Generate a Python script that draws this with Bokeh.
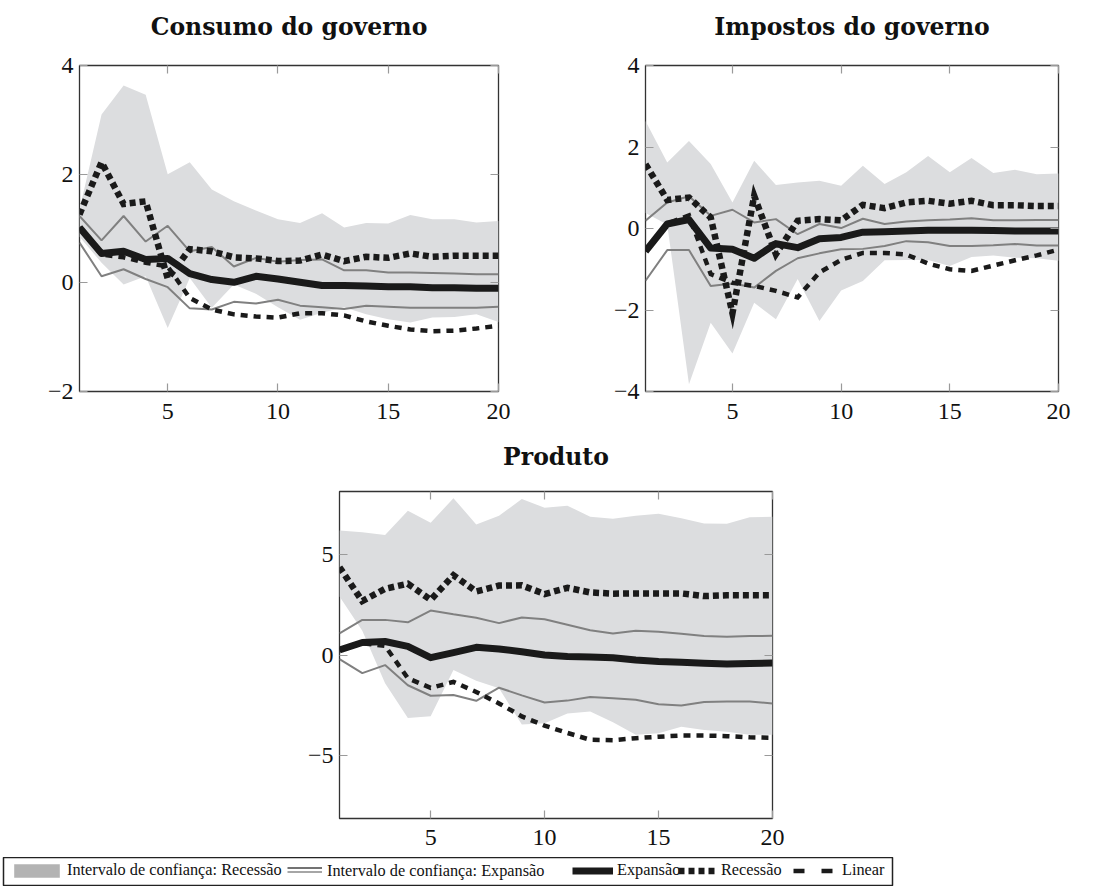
from bokeh.plotting import figure
from bokeh.models import Range1d, LinearAxis, FixedTicker, Legend, LegendItem, Spacer
from bokeh.layouts import column, row
from bokeh.embed import file_html
from bokeh.resources import INLINE

h = list(range(1, 21))
x_ticks = [5, 10, 15, 20]

# --- Consumo do governo ---
cg_band_up = [1.35, 3.1, 3.63, 3.46, 2.0, 2.22, 1.72, 1.5, 1.33, 1.17, 1.1, 1.28, 1.02, 1.1, 1.09, 1.25, 1.17, 1.17, 1.11, 1.14]
cg_band_lo = [0.85, 0.37, -0.03, 0.12, -0.83, 0.09, -0.46, -0.03, -0.2, -0.45, -0.68, -0.55, -0.45, -0.58, -0.67, -0.73, -0.64, -0.63, -0.58, -0.72]
cg_ci_up = [1.23, 0.78, 1.23, 0.76, 1.05, 0.58, 0.66, 0.3, 0.46, 0.39, 0.42, 0.43, 0.23, 0.23, 0.19, 0.19, 0.18, 0.17, 0.16, 0.16]
cg_ci_lo = [0.74, 0.12, 0.25, 0.07, -0.08, -0.47, -0.49, -0.35, -0.38, -0.31, -0.42, -0.45, -0.48, -0.42, -0.44, -0.46, -0.46, -0.46, -0.46, -0.44]
cg_exp = [1.02, 0.54, 0.58, 0.43, 0.45, 0.17, 0.06, 0.01, 0.12, 0.07, 0.01, -0.05, -0.05, -0.06, -0.07, -0.07, -0.09, -0.09, -0.1, -0.1]
cg_rec = [1.26, 2.22, 1.45, 1.5, 0.08, 0.62, 0.58, 0.47, 0.45, 0.4, 0.41, 0.52, 0.4, 0.48, 0.46, 0.54, 0.48, 0.5, 0.5, 0.5]
cg_lin = [1.02, 0.52, 0.47, 0.37, 0.3, -0.28, -0.49, -0.58, -0.62, -0.64, -0.56, -0.56, -0.6, -0.71, -0.79, -0.86, -0.89, -0.88, -0.84, -0.79]
cg_yticks = [-2, 0, 2, 4]

# --- Impostos do governo ---
ig_band_up = [2.64, 1.62, 2.15, 1.58, 0.64, 1.66, 1.07, 1.13, 1.17, 1.05, 1.54, 1.09, 1.38, 1.78, 1.38, 1.73, 1.36, 1.44, 1.33, 1.35]
ig_band_lo = [0.38, 0.1, -3.82, -2.31, -3.07, -1.82, -2.23, -1.24, -2.27, -1.52, -1.29, -0.78, -0.77, -0.77, -0.92, -0.7, -0.66, -0.72, -0.73, -0.79]
ig_ci_up = [0.19, 0.64, 0.79, 0.31, 0.46, 0.15, 0.23, -0.14, 0.11, 0.01, 0.24, 0.11, 0.17, 0.2, 0.22, 0.25, 0.2, 0.2, 0.21, 0.21]
ig_ci_lo = [-1.28, -0.53, -0.53, -1.41, -1.35, -1.45, -1.04, -0.73, -0.61, -0.51, -0.5, -0.43, -0.31, -0.34, -0.43, -0.43, -0.41, -0.38, -0.42, -0.42]
ig_exp = [-0.56, 0.11, 0.22, -0.48, -0.51, -0.73, -0.37, -0.47, -0.25, -0.22, -0.09, -0.08, -0.06, -0.04, -0.04, -0.04, -0.05, -0.06, -0.06, -0.06]
ig_rec = [1.58, 0.7, 0.76, 0.27, -2.08, 0.8, -0.63, 0.19, 0.23, 0.2, 0.58, 0.5, 0.64, 0.68, 0.61, 0.68, 0.57, 0.57, 0.55, 0.55]
ig_lin = [-0.55, 0.12, 0.32, -1.12, -1.33, -1.41, -1.53, -1.69, -1.08, -0.77, -0.6, -0.6, -0.64, -0.86, -1.0, -1.04, -0.91, -0.78, -0.66, -0.52]
ig_yticks = [-4, -2, 0, 2, 4]

# --- Produto ---
pr_band_up = [6.17, 6.08, 5.95, 7.15, 6.55, 7.77, 6.47, 6.9, 7.73, 7.3, 7.4, 6.85, 6.75, 6.9, 7.0, 6.77, 6.52, 6.5, 6.82, 6.85]
pr_band_lo = [2.9, 1.2, -1.4, -3.12, -3.03, -0.74, -1.28, -1.65, -3.44, -3.38, -2.9, -2.8, -3.33, -3.95, -3.88, -3.56, -3.72, -3.8, -3.95, -3.95]
pr_ci_up = [1.07, 1.74, 1.74, 1.62, 2.2, 2.02, 1.85, 1.58, 1.86, 1.77, 1.5, 1.23, 1.07, 1.2, 1.15, 1.05, 0.94, 0.9, 0.94, 0.95]
pr_ci_lo = [-0.2, -0.9, -0.5, -1.5, -2.02, -1.98, -2.27, -1.62, -2.0, -2.35, -2.26, -2.08, -2.14, -2.22, -2.44, -2.5, -2.33, -2.3, -2.3, -2.4]
pr_exp = [0.25, 0.62, 0.67, 0.43, -0.13, 0.12, 0.38, 0.3, 0.16, 0.0, -0.08, -0.1, -0.14, -0.25, -0.32, -0.36, -0.41, -0.45, -0.42, -0.4]
pr_rec = [4.35, 2.67, 3.28, 3.53, 2.73, 3.95, 3.15, 3.44, 3.45, 3.02, 3.33, 3.1, 3.04, 3.05, 3.05, 3.05, 2.92, 2.96, 2.96, 2.96]
pr_lin = [0.25, 0.58, 0.45, -1.15, -1.63, -1.33, -1.83, -2.4, -3.04, -3.5, -3.86, -4.2, -4.22, -4.12, -4.05, -3.99, -3.99, -4.02, -4.08, -4.1]
pr_yticks = [-5, 0, 5]

legend_labels = ["Intervalo de confiança: Recessão", "Intervalo de confiança: Expansão",
                 "Expansão", "Recessão", "Linear"]

BAND = "#dcdddf"
CI = "#808080"
INK = "#1a1a1a"
TICK = "#9a9a9a"
SERIF = "Liberation Serif"


def minus(v):
    return ("\u2212" + str(abs(v))) if v < 0 else str(v)


def style_axis(ax, ticks, labels=True, standoff=0):
    ax.ticker = FixedTicker(ticks=ticks)
    ax.major_tick_in = 8
    ax.major_tick_out = 0
    ax.minor_tick_line_color = None
    ax.major_tick_line_color = TICK
    ax.major_tick_line_width = 1.2
    ax.axis_line_color = None
    if labels:
        ax.major_label_text_font = SERIF
        ax.major_label_text_font_size = "24px"
        ax.major_label_text_color = "#111111"
        ax.major_label_standoff = standoff
        ax.major_label_overrides = {t: minus(t) for t in ticks}
    else:
        ax.major_label_overrides = {t: "" for t in ticks}
        ax.major_label_text_font_size = "1px"
        ax.major_label_standoff = 0


def panel(title, band_lo, band_up, ci_lo, ci_up, exp, rec, lin, yr, yticks,
          fw, fh, bl, br, bt, bb, tgap, xstand):
    p = figure(x_range=Range1d(1, 20), y_range=Range1d(*yr),
               frame_width=fw, frame_height=fh,
               min_border_left=bl, min_border_right=br,
               min_border_top=bt, min_border_bottom=bb,
               toolbar_location=None, output_backend="svg",
               background_fill_color="white", border_fill_color="white")
    p.grid.visible = False
    p.outline_line_color = "#333333"
    p.outline_line_width = 1.3

    style_axis(p.xaxis[0], x_ticks, standoff=xstand)
    style_axis(p.yaxis[0], yticks, standoff=6)
    # top axis: inner ticks only, and it carries the panel title
    top = LinearAxis()
    style_axis(top, x_ticks, labels=False)
    top.axis_label = title
    top.axis_label_text_font = "DejaVu Serif"
    top.axis_label_text_font_style = "bold"
    top.axis_label_text_font_size = "23.5px"
    top.axis_label_text_color = "#111111"
    top.axis_label_standoff = tgap
    p.add_layout(top, "above")
    right = LinearAxis()
    style_axis(right, yticks, labels=False)
    p.add_layout(right, "right")

    p.varea(x=h, y1=band_lo, y2=band_up, fill_color=BAND)
    p.line(h, ci_up, line_color=CI, line_width=2)
    p.line(h, ci_lo, line_color=CI, line_width=2)
    p.line(h, exp, line_color=INK, line_width=7, line_join="round")
    p.line(h, rec, line_color=INK, line_width=6.5, line_dash="6 4", line_join="miter")
    p.line(h, lin, line_color=INK, line_width=4.5, line_dash="7 6", line_join="miter")
    return p


p1 = panel("Consumo do governo", cg_band_lo, cg_band_up, cg_ci_lo, cg_ci_up,
           cg_exp, cg_rec, cg_lin, (-2, 4), cg_yticks, 419, 326, 79, 52, 65, 39, 25, 12)
p2 = panel("Impostos do governo", ig_band_lo, ig_band_up, ig_ci_lo, ig_ci_up,
           ig_exp, ig_rec, ig_lin, (-4, 4), ig_yticks, 413, 326, 95, 40, 65, 39, 25, 12)
p3 = panel("Produto", pr_band_lo, pr_band_up, pr_ci_lo, pr_ci_up,
           pr_exp, pr_rec, pr_lin, (-8.1, 8.1), pr_yticks, 433, 327, 70, 40, 61, 39, 21, 11)

# legend strip: the frame outline is the legend box; helper renderers sit outside
# the visible range, only their legend swatches are shown.
lf = figure(width=1098, height=29, frame_width=889, frame_height=28,
            min_border_left=3, min_border_right=206, min_border_top=0, min_border_bottom=1,
            x_range=Range1d(0, 1), y_range=Range1d(0, 1),
            toolbar_location=None, output_backend="svg")
lf.axis.visible = False
lf.grid.visible = False
lf.outline_line_color = "#222222"
lf.outline_line_width = 1.5
hx = [5, 6]
hy = [5, 5]
r_band = lf.varea(x=hx, y1=hy, y2=[6, 6], fill_color="#b3b3b3")
r_ci1 = lf.line(x=hx, y=hy, line_color="#444444", line_width=1.3)
r_ci2 = lf.line(x=hx, y=hy, line_color="#888888", line_width=1.3)
r_exp = lf.line(x=hx, y=hy, line_color=INK, line_width=7)
r_rec = lf.line(x=hx, y=hy, line_color=INK, line_width=6.5, line_dash="6 4")
r_lin = lf.line(x=hx, y=hy, line_color=INK, line_width=4.5, line_dash="11 17")


def add_leg(label, rend, x, y, gw, gh, standoff):
    leg = Legend(items=[LegendItem(label=label, renderers=[rend])],
                 orientation="horizontal", location=(x, y),
                 border_line_color=None, background_fill_alpha=0,
                 label_text_font=SERIF, label_text_font_size="16.3px",
                 label_text_color="#111111",
                 glyph_width=gw, glyph_height=gh, label_standoff=standoff,
                 padding=0, margin=0, spacing=0)
    lf.add_layout(leg)


add_leg(legend_labels[0], r_band, 5, 5, 57, 17, 2)
add_leg("", r_ci1, 284, 8, 35, 19, 5)
add_leg(legend_labels[1], r_ci2, 284, 4, 35, 19, 5)
add_leg(legend_labels[2], r_exp, 569, 5, 41, 19, 4)
add_leg(legend_labels[3], r_rec, 675, 5, 39, 19, 4)
add_leg(legend_labels[4], r_lin, 790, 5, 42, 19, 7)

layout = column(row(p1, p2), row(Spacer(width=269, height=10), p3), lf)
open("out.html", "w").write(file_html(layout, INLINE))
